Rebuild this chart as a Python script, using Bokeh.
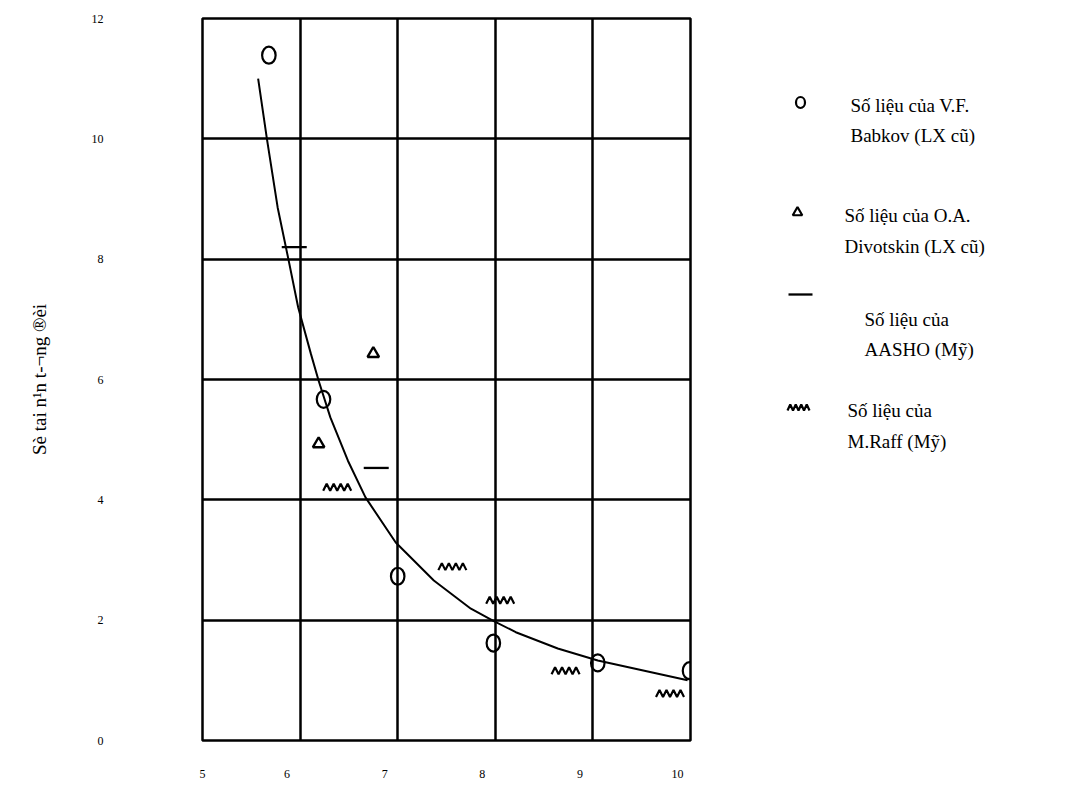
from bokeh.plotting import figure
from bokeh.models import Range1d, FixedTicker, CustomJSTickFormatter
from bokeh.layouts import row
from bokeh.embed import file_html
from bokeh.resources import INLINE
from bokeh.core.properties import value

# ---------------- data ----------------
x_ticks = [5, 6, 7, 8, 9, 10]
y_ticks = [0, 2, 4, 6, 8, 10, 12]
y_label = "Sè tai n¹n t-¬ng ®èi"

curve_x = [5.57, 5.66, 5.77, 5.88, 5.98, 6.11, 6.19, 6.31, 6.49, 6.67, 6.98,
           7.37, 7.75, 7.98, 8.21, 8.64, 9.05, 9.97]
curve_y = [11.0, 10.0, 8.86, 8.0, 7.2, 6.43, 5.98, 5.37, 4.65, 4.04, 3.29,
           2.66, 2.19, 1.99, 1.80, 1.53, 1.33, 1.0]

babkov_x = [5.68, 6.24, 7.00, 7.98, 9.05, 9.99]
babkov_y = [11.39, 5.67, 2.73, 1.62, 1.29, 1.16]
divotskin_x = [6.75, 6.19]
divotskin_y = [6.43, 4.93]
aasho_x = [5.94, 6.78]
aasho_y = [8.20, 4.53]
raff_x = [6.38, 7.56, 8.05, 8.72, 9.79]
raff_y = [4.21, 2.89, 2.33, 1.16, 0.78]

legend_lines = [
    ["Số liệu của V.F.", "Babkov (LX cũ)"],
    ["Số liệu của O.A.", "Divotskin (LX cũ)"],
    ["Số liệu của", "AASHO (Mỹ)"],
    ["Số liệu của", "M.Raff (Mỹ)"],
]

# ---------------- layout / style ----------------
FONT = "Liberation Serif"
FW, FH = 488, 722
BL, BR, BT, BB = 202, 4, 18, 52
X0, X1, Y0, Y1 = 5, 10, 0, 12
PX_X = FW / (X1 - X0)
PX_Y = FH / (Y1 - Y0)
XLAB_SHIFT = 13 / PX_X   # tick labels sit a little left of the grid lines

p = figure(frame_width=FW, frame_height=FH,
           x_range=Range1d(X0, X1), y_range=Range1d(Y0, Y1),
           output_backend="svg", toolbar_location=None,
           min_border_left=BL, min_border_right=BR,
           min_border_top=BT, min_border_bottom=BB,
           background_fill_color="white", border_fill_color="white")

xlab_pos = [x_ticks[0]] + [t - XLAB_SHIFT for t in x_ticks[1:]]
p.xaxis.ticker = FixedTicker(ticks=xlab_pos)
p.xaxis.formatter = CustomJSTickFormatter(
    args=dict(sh=XLAB_SHIFT),
    code="return (tick <= 5.0001 ? Math.round(tick) : Math.round(tick + sh)).toString();")
p.yaxis.ticker = FixedTicker(ticks=y_ticks)
for ax in (p.xaxis, p.yaxis):
    ax.axis_line_color = None
    ax.major_tick_line_color = None
    ax.minor_tick_line_color = None
    ax.major_tick_in = 0
    ax.major_tick_out = 0
    ax.major_label_text_font = FONT
    ax.major_label_text_font_size = "12px"
    ax.major_label_text_color = "black"
p.yaxis.major_label_standoff = 99
p.xaxis.major_label_standoff = 29
p.yaxis.axis_label = y_label
p.yaxis.axis_label_text_font = FONT
p.yaxis.axis_label_text_font_size = "19px"
p.yaxis.axis_label_text_font_style = "normal"
p.yaxis.axis_label_text_color = "black"
p.yaxis.axis_label_standoff = 39

p.xgrid.ticker = FixedTicker(ticks=x_ticks)
p.ygrid.ticker = FixedTicker(ticks=y_ticks)
for g in (p.xgrid, p.ygrid):
    g.grid_line_color = "black"
    g.grid_line_width = 2.5
    g.grid_line_alpha = 1.0
p.outline_line_color = "black"
p.outline_line_width = 2.5
p.outline_line_alpha = 1.0

# curve
p.line(curve_x, curve_y, line_color="black", line_width=2)

# Babkov circles
p.ellipse(babkov_x, babkov_y, width=13.5, height=17,
          width_units="screen", height_units="screen",
          fill_color=None, line_color="black", line_width=2.2)
# Divotskin triangles
p.scatter(divotskin_x, divotskin_y, marker="triangle", size=11.5,
          fill_color=None, line_color="black", line_width=2.4)
# AASHO dashes
p.scatter(aasho_x, aasho_y, marker="dash", size=25,
          line_color="black", line_width=2.3)

# Raff zigzags
zz_dx = [-14, -10.5, -7, -3.5, 0, 3.5, 7, 10.5, 14]
zz_dy = [-3.5, 3.5, -3.5, 3.5, -3.5, 3.5, -3.5, 3.5, -3.5]
p.multi_line([[x + d / PX_X for d in zz_dx] for x in raff_x],
             [[y + d / PX_Y for d in zz_dy] for y in raff_y],
             line_color="black", line_width=2.2)

# ---------------- legend panel (coordinates = page pixels) ----------------
LW = 360
LX0 = BL + FW + BR
q = figure(frame_width=LW, frame_height=FH,
           x_range=Range1d(LX0, LX0 + LW), y_range=Range1d(BT + FH, BT),
           output_backend="svg", toolbar_location=None,
           x_axis_location=None, y_axis_location=None,
           min_border_left=0, min_border_right=0,
           min_border_top=BT, min_border_bottom=BB,
           background_fill_color="white", border_fill_color="white")
q.grid.visible = False
q.outline_line_color = None

q.ellipse([800], [102], width=9, height=11, width_units="screen",
          height_units="screen", fill_color=None, line_color="black",
          line_width=2.2)
q.scatter([797], [212], marker="triangle", size=9.5, fill_color=None,
          line_color="black", line_width=2.2)
q.scatter([800], [294], marker="dash", size=24, line_color="black",
          line_width=2.3)
lz_dx = [-11, -8.25, -5.5, -2.75, 0, 2.75, 5.5, 8.25, 11]
lz_dy = [3, -3, 3, -3, 3, -3, 3, -3, 3]
q.line([798 + d for d in lz_dx], [407 + d for d in lz_dy],
       line_color="black", line_width=2.2)

text_x = [850, 844, 864, 847]
text_y = [(105, 135), (215, 246), (319, 349), (410, 441)]
for lines, tx, ty in zip(legend_lines, text_x, text_y):
    q.text([tx, tx], list(ty), text=lines, text_font=value(FONT),
           text_font_size="19px", text_color="black",
           text_baseline="alphabetic", text_align="left")

layout = row(p, q)
open("out.html", "w").write(file_html(layout, INLINE))
